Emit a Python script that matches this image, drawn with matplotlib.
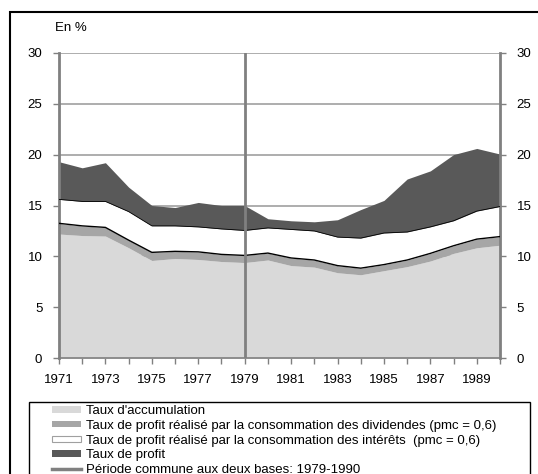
import numpy as np
import matplotlib.pyplot as plt
from matplotlib.patches import Rectangle, Patch
from matplotlib.lines import Line2D

plt.rcParams['font.family'] = ['Liberation Sans', 'DejaVu Sans']

# Données (en %)
annees = list(range(1971, 1991))
accumulation = [12.2, 12.05, 12.0, 10.85, 9.6, 9.8, 9.7, 9.5, 9.4, 9.65,
                9.1, 8.95, 8.4, 8.2, 8.6, 9.0, 9.55, 10.3, 10.85, 11.1]
dividendes = [13.25, 13.0, 12.85, 11.6, 10.4, 10.5, 10.45, 10.2, 10.1, 10.33,
              9.85, 9.65, 9.1, 8.85, 9.2, 9.65, 10.3, 11.05, 11.7, 11.95]
interets = [15.6, 15.4, 15.4, 14.4, 13.0, 13.0, 12.9, 12.7, 12.55, 12.8,
            12.65, 12.5, 11.9, 11.8, 12.3, 12.4, 12.9, 13.5, 14.45, 14.9]
profit = [19.3, 18.7, 19.2, 16.8, 15.0, 14.8, 15.3, 15.0, 15.0, 13.7,
          13.5, 13.4, 13.6, 14.6, 15.5, 17.6, 18.4, 20.0, 20.6, 20.05]
annee_commune = 1979

W, H = 538, 474
fig = plt.figure(figsize=(W / 100, H / 100), dpi=100)

# cadre extérieur
fig.add_artist(Rectangle((10 / W, -0.1), 1.2, 1 - 12 / H + 0.1, transform=fig.transFigure,
                         fill=False, edgecolor='black', linewidth=1.5))

ax = fig.add_axes([59 / W, (H - 358.3) / H, 441 / W, 305.6 / H])
x = np.array(annees)
ax.fill_between(x, 0, accumulation, color='#d9d9d9', linewidth=0, zorder=2)
ax.fill_between(x, accumulation, dividendes, color='#a6a6a6', linewidth=0, zorder=2)
ax.fill_between(x, dividendes, interets, color='white', linewidth=0, zorder=2)
ax.fill_between(x, interets, profit, color='#595959', linewidth=0, zorder=2)
ax.plot(x, dividendes, color='black', linewidth=1.0, zorder=3)
ax.plot(x, interets, color='black', linewidth=0.6, zorder=3)
ax.axvline(annee_commune, color='#808080', linewidth=2, zorder=4)

ax.set_xlim(1971, 1990)
ax.set_ylim(0, 30)
ax.set_yticks(range(0, 31, 5))
ax.set_xticks(range(1971, 1991))
ax.set_xticklabels([str(a) if (a - 1971) % 2 == 0 else '' for a in annees])
ax.yaxis.grid(True, color='#a0a0a0', linewidth=1.2, zorder=1)
ax.set_axisbelow(True)
ax.tick_params(axis='both', labelsize=9.5, colors='#808080', labelcolor='black',
               length=4, width=1, direction='out')
ax.tick_params(axis='y', right=True, labelright=True, pad=8)
ax.tick_params(axis='x', pad=7)
for side in ['left', 'right']:
    ax.spines[side].set_color('#808080')
    ax.spines[side].set_linewidth(2)
ax.spines['top'].set_visible(False)
ax.spines['bottom'].set_color('#808080')
ax.spines['bottom'].set_linewidth(1.2)

fig.text(55 / W, 1 - 28 / H, 'En %', fontsize=9.5, va='center', ha='left')

# légende
fig.add_artist(Rectangle((29 / W, -0.1), (530 - 29) / W, 1 - 402 / H + 0.1,
                         transform=fig.transFigure, fill=False, edgecolor='black', linewidth=1))
handles = [
    Patch(facecolor='#d9d9d9', edgecolor='none'),
    Patch(facecolor='#a6a6a6', edgecolor='none'),
    Patch(facecolor='white', edgecolor='#a0a0a0', linewidth=0.8),
    Patch(facecolor='#595959', edgecolor='none'),
    Line2D([0], [0], color='#808080', linewidth=2.5),
]
labels = [
    "Taux d'accumulation",
    "Taux de profit réalisé par la consommation des dividendes (pmc = 0,6)",
    "Taux de profit réalisé par la consommation des intérêts  (pmc = 0,6)",
    "Taux de profit",
    "Période commune aux deux bases: 1979-1990",
]
fig.legend(handles, labels, loc='upper left', bbox_to_anchor=(51 / W, 1 - 404 / H),
           frameon=False, fontsize=9.5, handlelength=2.2, handleheight=0.35,
           handletextpad=0.35, labelspacing=0.2, borderpad=0.1, borderaxespad=0)

fig.savefig('out.png', dpi=100)
